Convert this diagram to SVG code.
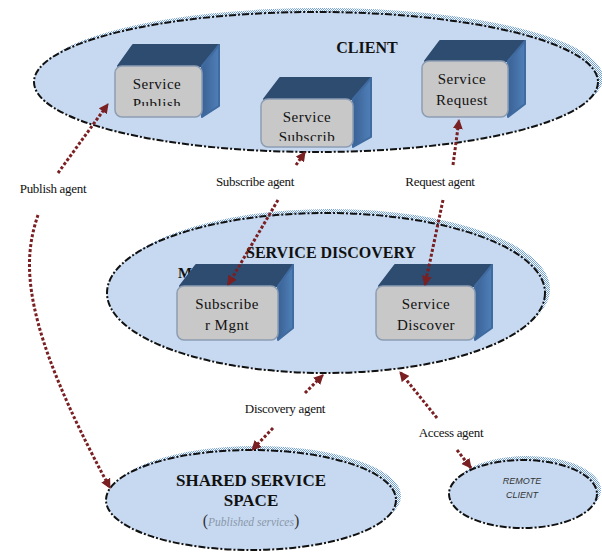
<svg xmlns="http://www.w3.org/2000/svg" width="602" height="554" viewBox="0 0 602 554">
<defs>
<pattern id="hatch" width="2" height="2" patternUnits="userSpaceOnUse">
<rect width="2" height="2" fill="#ffffff"/>
<rect width="1" height="1" fill="#6f9fdc"/>
<rect x="1" y="1" width="1" height="1" fill="#6f9fdc"/>
</pattern>
<linearGradient id="side" x1="0" y1="0" x2="1" y2="0">
<stop offset="0" stop-color="#3a6296"/>
<stop offset="1" stop-color="#4f7fb8"/>
</linearGradient>
<marker id="ah" viewBox="0 0 10 10" refX="9" refY="5" markerWidth="10" markerHeight="10" markerUnits="userSpaceOnUse" orient="auto">
<path d="M0,0 L10,5 L0,10 Z" fill="#7a1f22"/>
</marker>
<clipPath id="c1"><rect x="115" y="66" width="87" height="40"/></clipPath>
<clipPath id="c2"><rect x="261" y="99" width="92" height="42"/></clipPath>
</defs>
<style>
.shadow{fill:url(#hatch);stroke:none}
.ell{fill:#c6d9f0;stroke:#111;stroke-width:2;stroke-dasharray:7 2 2 2}
.front{fill:#c8c8c8;stroke:#8d9db3;stroke-width:1.5}
.top{fill:#2e4b70;stroke:#2e4b70;stroke-width:2;stroke-linejoin:round}
.right{fill:url(#side);stroke:#3f6ba0;stroke-width:2;stroke-linejoin:round}
.bt{font-family:"Liberation Serif",serif;font-size:15px;fill:#111;text-anchor:middle;letter-spacing:0.5px}
.lbl{font-family:"Liberation Serif",serif;font-size:13px;fill:#111;text-anchor:middle;letter-spacing:-0.3px}
.title{font-family:"Liberation Serif",serif;font-weight:bold;fill:#111;text-anchor:middle}
.conn{fill:none;stroke:#7a1f22;stroke-width:3;stroke-dasharray:3 2}
</style>

<g id="client">
<ellipse class="shadow" cx="321" cy="78" rx="282" ry="70"/>
<ellipse class="ell" cx="316" cy="82" rx="282" ry="70"/>
<text class="title" x="367" y="53" font-size="16">CLIENT</text>
</g>

<g id="service-discovery">
<ellipse class="shadow" cx="331" cy="289" rx="219" ry="80"/>
<ellipse class="ell" cx="326" cy="293" rx="219" ry="80"/>
<text class="title" x="331" y="258" font-size="16">SERVICE DISCOVERY</text>
<text class="title" x="185" y="278" font-size="15">M</text>
</g>

<g id="shared-service-space">
<ellipse class="shadow" cx="256" cy="496" rx="145" ry="50"/>
<ellipse class="ell" cx="251" cy="500" rx="145" ry="50"/>
<text class="title" x="251" y="486" font-size="17">SHARED SERVICE</text>
<text class="title" x="251" y="506" font-size="17">SPACE</text>
<text x="251" y="526" text-anchor="middle" font-family="Liberation Serif,serif"><tspan font-size="16" fill="#333">(</tspan><tspan font-size="11.5" font-style="italic" fill="#8a97aa">Published services</tspan><tspan font-size="16" fill="#333">)</tspan></text>
</g>

<g id="remote-client">
<ellipse class="shadow" cx="527" cy="490" rx="74" ry="34"/>
<ellipse class="ell" cx="523" cy="494" rx="74" ry="34"/>
<text x="522" y="484" text-anchor="middle" font-family="Liberation Sans,Arial,sans-serif" font-size="9" font-style="italic" fill="#333">REMOTE</text>
<text x="522" y="498" text-anchor="middle" font-family="Liberation Sans,Arial,sans-serif" font-size="9" font-style="italic" fill="#333">CLIENT</text>
</g>

<g id="service-publish">
<polygon class="top" points="118,66 133,45 219,45 202,66"/>
<polygon class="right" points="202,66 219,45 219,106 202,117"/>
<rect class="front" x="115" y="66" width="87" height="51" rx="7"/>
<g clip-path="url(#c1)">
<text class="bt" x="157" y="89">Service</text>
<text class="bt" x="157" y="109">Publish</text>
</g>
</g>

<g id="service-subscrib">
<polygon class="top" points="264,99 280,78 371,78 353,99"/>
<polygon class="right" points="353,99 371,78 371,137 353,147"/>
<rect class="front" x="261" y="99" width="92" height="48" rx="7"/>
<g clip-path="url(#c2)">
<text class="bt" x="307" y="122">Service</text>
<text class="bt" x="307" y="142">Subscrib</text>
</g>
</g>

<g id="service-request">
<polygon class="top" points="425,61 440,41 525,41 508,61"/>
<polygon class="right" points="508,61 525,41 525,104 508,117"/>
<rect class="front" x="422" y="61" width="86" height="56" rx="7"/>
<text class="bt" x="462" y="84">Service</text>
<text class="bt" x="462" y="105">Request</text>
</g>

<g id="subscriber-mgnt">
<polygon class="top" points="180,286 196,265 293,265 278,286"/>
<polygon class="right" points="278,286 293,265 293,328 278,340"/>
<rect class="front" x="177" y="286" width="101" height="54" rx="7"/>
<text class="bt" x="227" y="309">Subscribe</text>
<text class="bt" x="227" y="330">r Mgnt</text>
</g>

<g id="service-discover">
<polygon class="top" points="379,286 395,265 492,265 475,286"/>
<polygon class="right" points="475,286 492,265 492,328 475,340"/>
<rect class="front" x="376" y="286" width="99" height="54" rx="7"/>
<text class="bt" x="426" y="309">Service</text>
<text class="bt" x="426" y="330">Discover</text>
</g>

<g id="connectors">
<path class="conn" d="M58,173 L108,104" marker-end="url(#ah)"/>
<path class="conn" d="M38,215 C22,262 20,322 110,488" marker-end="url(#ah)"/>
<path class="conn" d="M296,165 L305,152" marker-end="url(#ah)"/>
<path class="conn" d="M278,200 L228,285" marker-end="url(#ah)"/>
<path class="conn" d="M453,165 L459,120" marker-end="url(#ah)"/>
<path class="conn" d="M443,200 L425,285" marker-end="url(#ah)"/>
<path class="conn" d="M305,393 L323,375" marker-end="url(#ah)"/>
<path class="conn" d="M273,428 L252,450" marker-end="url(#ah)"/>
<path class="conn" d="M437,418 L400,372" marker-end="url(#ah)"/>
<path class="conn" d="M457,450 L471,468" marker-end="url(#ah)"/>
</g>

<g id="labels">
<text class="lbl" x="53" y="193">Publish agent</text>
<text class="lbl" x="255" y="186">Subscribe agent</text>
<text class="lbl" x="440" y="186">Request agent</text>
<text class="lbl" x="285" y="413">Discovery agent</text>
<text class="lbl" x="451" y="437">Access agent</text>
</g>
</svg>
